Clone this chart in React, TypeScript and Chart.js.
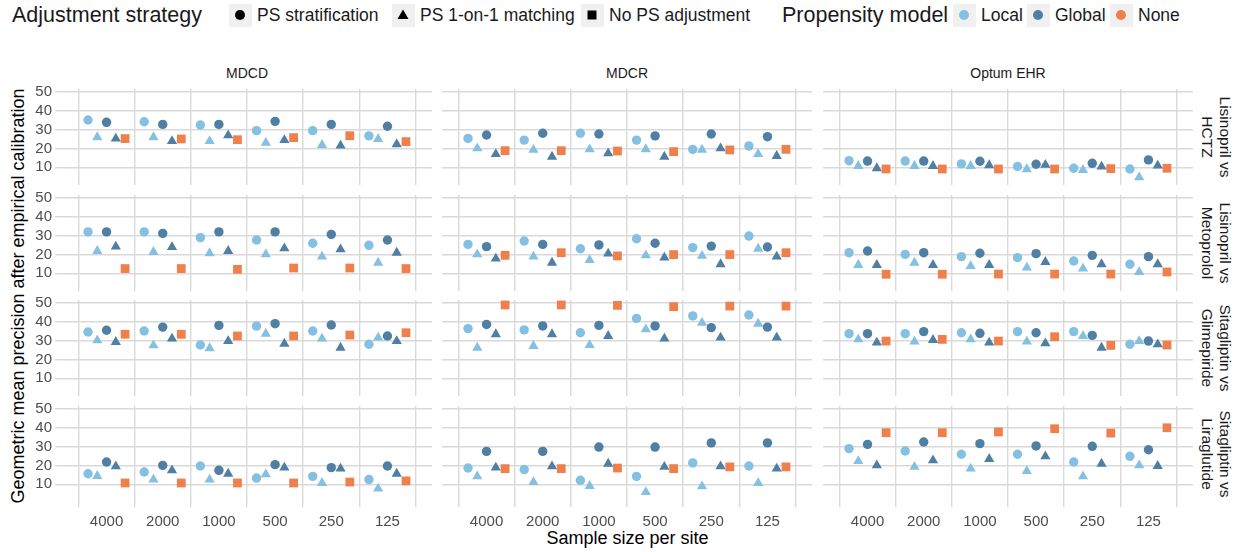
import React, { useEffect, useRef } from 'react';
import { Chart, registerables } from 'chart.js';

Chart.register(...registerables);

const FONT = "'Liberation Sans', Arial, Helvetica, sans-serif";
Chart.defaults.font.family = FONT;

// ---------------- data ----------------
const sampleSizes = ['4000', '2000', '1000', '500', '250', '125'];
const databases = ['MDCD', 'MDCR', 'Optum EHR'];
const comparisons = [
  'Lisinopril vs\nHCTZ',
  'Lisinopril vs\nMetoprolol',
  'Sitagliptin vs\nGlimepiride',
  'Sitagliptin vs\nLiraglutide',
];
const yTickValues = [10, 20, 30, 40, 50];

// each row = one panel (comparison x database, row-major), values per sample size
const localStratification = [
  [35.0, 34.1, 32.4, 29.4, 29.4, 26.6],
  [25.3, 24.4, 28.0, 24.4, 19.5, 21.3],
  [13.5, 13.3, 11.8, 10.4, 9.5, 9.1],
  [31.9, 31.9, 28.9, 27.6, 25.9, 24.8],
  [25.3, 27.1, 23.0, 28.3, 23.6, 29.7],
  [20.9, 20.0, 18.8, 18.3, 16.5, 14.8],
  [34.5, 35.0, 27.6, 37.6, 35.0, 28.0],
  [36.3, 35.6, 34.1, 41.7, 43.0, 43.5],
  [33.6, 33.6, 34.1, 34.7, 34.7, 28.0],
  [15.6, 16.5, 19.7, 13.3, 14.2, 12.5],
  [18.6, 17.8, 12.1, 14.2, 21.3, 19.7],
  [28.9, 27.6, 25.9, 25.9, 21.8, 24.8],
];
const localMatching = [
  [25.9, 25.9, 23.9, 23.0, 21.8, 25.0],
  [20.0, 19.2, 19.5, 19.5, 19.2, 17.0],
  [10.7, 10.7, 10.7, 9.0, 8.6, 4.7],
  [21.8, 21.3, 20.6, 20.0, 18.8, 15.6],
  [20.0, 18.8, 17.0, 19.5, 19.2, 23.0],
  [14.4, 15.6, 13.8, 13.0, 12.5, 10.7],
  [30.1, 27.4, 25.9, 33.6, 31.0, 31.5],
  [26.2, 27.1, 27.6, 35.9, 39.4, 38.9],
  [30.6, 29.4, 30.6, 29.4, 32.4, 29.7],
  [14.4, 12.5, 12.5, 15.3, 10.7, 7.7],
  [14.2, 11.2, 9.1, 5.9, 8.9, 10.7],
  [22.3, 19.2, 18.3, 17.0, 14.2, 20.0],
];
const globalStratification = [
  [33.8, 32.7, 32.7, 34.3, 32.7, 31.7],
  [27.1, 28.0, 27.6, 26.6, 27.6, 26.2],
  [13.3, 13.3, 13.2, 11.6, 12.1, 13.9],
  [31.9, 31.1, 31.9, 31.9, 30.6, 27.6],
  [24.1, 25.3, 25.0, 25.9, 24.4, 23.9],
  [21.8, 20.9, 20.6, 20.4, 19.5, 18.8],
  [35.4, 37.1, 38.0, 38.9, 38.2, 32.4],
  [38.5, 37.7, 38.0, 37.7, 36.8, 37.1],
  [33.6, 34.7, 33.8, 34.1, 32.7, 29.7],
  [21.8, 20.0, 17.4, 20.4, 18.8, 19.7],
  [27.4, 27.4, 29.7, 29.7, 31.9, 31.9],
  [31.1, 32.4, 31.5, 30.3, 30.1, 28.3],
];
const globalMatching = [
  [25.2, 23.9, 26.9, 24.4, 21.5, 22.2],
  [17.0, 15.6, 17.4, 15.6, 20.0, 16.0],
  [9.5, 10.7, 11.1, 11.3, 10.4, 10.9],
  [24.1, 23.9, 21.8, 23.2, 22.7, 20.9],
  [17.8, 15.6, 20.4, 18.3, 14.8, 18.8],
  [14.4, 14.4, 14.4, 16.0, 14.8, 14.8],
  [29.2, 31.0, 29.7, 28.3, 26.2, 29.7],
  [33.3, 33.3, 32.4, 31.0, 31.5, 31.5],
  [28.9, 30.3, 28.9, 28.5, 26.2, 28.0],
  [19.5, 17.4, 15.6, 18.8, 18.3, 15.6],
  [18.8, 19.5, 20.9, 19.2, 19.5, 18.3],
  [20.0, 22.7, 23.4, 24.8, 20.9, 19.7],
];
const noAdjustment = [
  [25.2, 25.0, 24.6, 25.7, 26.7, 23.6],
  [18.8, 18.8, 18.6, 18.3, 19.2, 19.5],
  [9.1, 9.1, 9.1, 9.1, 9.3, 9.5],
  [12.5, 12.5, 12.1, 12.8, 12.8, 12.5],
  [19.5, 20.9, 19.2, 19.9, 19.9, 20.9],
  [9.5, 9.5, 9.6, 9.6, 9.6, 10.7],
  [33.3, 33.3, 32.4, 32.4, 32.9, 34.1],
  [48.8, 48.8, 48.6, 47.9, 48.2, 48.2],
  [29.7, 30.6, 29.7, 32.0, 27.4, 27.6],
  [10.7, 10.7, 10.7, 10.7, 11.2, 11.8],
  [18.3, 18.3, 18.6, 18.3, 19.2, 19.2],
  [37.3, 37.3, 37.7, 39.4, 37.1, 39.9],
];

// ---------------- style ----------------
const LOCAL = '#84c0e2';
const GLOBAL = '#4f7fa2';
const NONE = '#ef7f4b';
const GRID = '#d9d9d9';
const TICK_TEXT = '#4d4d4d';
const STRIP_TEXT = '#1a1a1a';

const PANEL_W = 370;
const PANEL_H = 96;
const COL_LEFT = [62, 442, 823];
const ROW_TOP = [89, 195, 300, 406];
const Y_MIN = 0.63;
const Y_MAX = 51.43;
const X_MIN = -0.293;
const X_MAX = 6.293;
const PAD = 22;
const Y_AXIS_W = 45;
const X_AXIS_H = 30;
const DODGE = [-0.33, -0.165, 0, 0.165, 0.33];

const seriesDefs = [
  { values: localStratification, color: LOCAL, style: 'circle', radius: 4.7 },
  { values: localMatching, color: LOCAL, style: 'triangle', radius: 5.9 },
  { values: globalStratification, color: GLOBAL, style: 'circle', radius: 4.7 },
  { values: globalMatching, color: GLOBAL, style: 'triangle', radius: 5.9 },
  { values: noAdjustment, color: NONE, style: 'rect', radius: 6.2 },
];

function Panel({ r, c }: { r: number; c: number }) {
  const ref = useRef<HTMLCanvasElement>(null);
  const showY = c === 0;
  const showX = r === 3;
  const w = PANEL_W + 2 * PAD + (showY ? Y_AXIS_W : 0);
  const h = PANEL_H + 2 * PAD + (showX ? X_AXIS_H : 0);
  const left = COL_LEFT[c] - PAD - (showY ? Y_AXIS_W : 0);
  const top = ROW_TOP[r] - PAD;

  useEffect(() => {
    if (!ref.current) return;
    const idx = r * 3 + c;
    const unit = PANEL_W / (X_MAX - X_MIN);
    const chart = new Chart(ref.current, {
      type: 'scatter',
      data: {
        datasets: seriesDefs.map((s, k) => ({
          data: s.values[idx].map((v, i) => ({ x: i + 0.5 + DODGE[k], y: v })),
          pointStyle: s.style as any,
          pointRadius: s.radius,
          pointHoverRadius: s.radius,
          backgroundColor: s.color,
          borderColor: s.color,
          pointBorderWidth: 0,
          borderWidth: 0,
          clip: false as any,
        })),
      },
      options: {
        responsive: false,
        animation: false,
        events: [],
        layout: { padding: PAD, autoPadding: false },
        plugins: { legend: { display: false }, tooltip: { enabled: false } },
        scales: {
          x: {
            type: 'linear',
            min: X_MIN,
            max: X_MAX,
            afterBuildTicks: (s: any) => {
              s.ticks = [0, 1, 2, 3, 4, 5, 6].map((v) => ({ value: v }));
            },
            afterFit: (s: any) => {
              s.height = showX ? X_AXIS_H : 0;
            },
            border: { display: false },
            grid: {
              color: GRID,
              lineWidth: 1.4,
              drawTicks: showX,
              tickLength: 5,
              tickColor: GRID,
            },
            ticks: {
              display: showX,
              autoSkip: false,
              maxRotation: 0,
              labelOffset: unit / 2,
              padding: 6,
              color: TICK_TEXT,
              font: { size: 15, family: FONT },
              callback: (v: any) => sampleSizes[v] ?? '',
            },
          },
          y: {
            type: 'linear',
            min: Y_MIN,
            max: Y_MAX,
            afterBuildTicks: (s: any) => {
              s.ticks = yTickValues.map((v) => ({ value: v }));
            },
            afterFit: (s: any) => {
              s.width = showY ? Y_AXIS_W : 0;
            },
            border: { display: false },
            grid: {
              color: GRID,
              lineWidth: 1.4,
              drawTicks: showY,
              tickLength: 7,
              tickColor: GRID,
            },
            ticks: {
              display: showY,
              padding: 3,
              color: TICK_TEXT,
              font: { size: 15, family: FONT },
            },
          },
        },
      },
    } as any);
    return () => chart.destroy();
  }, [r, c]);

  return (
    <canvas
      ref={ref}
      width={w}
      height={h}
      style={{ position: 'absolute', left, top, width: w, height: h }}
    />
  );
}

function Marker({ shape, color }: { shape: string; color: string }) {
  return (
    <svg width={12} height={12} viewBox="0 0 12 12" style={{ display: 'block' }}>
      {shape === 'circle' && <circle cx={6} cy={6} r={5} fill={color} />}
      {shape === 'triangle' && <polygon points="6,0.5 11.5,10 0.5,10" fill={color} />}
      {shape === 'square' && <rect x={1.5} y={1.5} width={9} height={9} fill={color} />}
    </svg>
  );
}

function LegendItem({ x, shape, color, label }: { x: number; shape: string; color: string; label: string }) {
  return (
    <>
      <div
        style={{
          position: 'absolute',
          left: x - 11.5,
          top: 3.5,
          width: 23,
          height: 23,
          background: '#f0f0f0',
          display: 'flex',
          alignItems: 'center',
          justifyContent: 'center',
        }}
      >
        <Marker shape={shape} color={color} />
      </div>
      <div
        style={{
          position: 'absolute',
          left: x + 17,
          top: 15,
          transform: 'translateY(-50%)',
          fontSize: 17.5,
          whiteSpace: 'nowrap',
          color: '#1a1a1a',
        }}
      >
        {label}
      </div>
    </>
  );
}

export default function App() {
  const panels = [];
  for (let r = 0; r < 4; r++) for (let c = 0; c < 3; c++) panels.push(<Panel key={`${r}-${c}`} r={r} c={c} />);

  return (
    <div
      style={{
        position: 'absolute',
        left: 0,
        top: 0,
        width: 1239,
        height: 552,
        background: '#ffffff',
        fontFamily: FONT,
        overflow: 'hidden',
      }}
    >
      {/* legend */}
      <div style={{ position: 'absolute', left: 12, top: 15, transform: 'translateY(-50%)', fontSize: 21.5, whiteSpace: 'nowrap', color: '#1a1a1a' }}>
        Adjustment strategy
      </div>
      <LegendItem x={240} shape="circle" color="#000" label="PS stratification" />
      <LegendItem x={403} shape="triangle" color="#000" label="PS 1-on-1 matching" />
      <LegendItem x={592} shape="square" color="#000" label="No PS adjustment" />
      <div style={{ position: 'absolute', left: 782, top: 15, transform: 'translateY(-50%)', fontSize: 21.5, whiteSpace: 'nowrap', color: '#1a1a1a' }}>
        Propensity model
      </div>
      <LegendItem x={964} shape="circle" color={LOCAL} label="Local" />
      <LegendItem x={1038} shape="circle" color={GLOBAL} label="Global" />
      <LegendItem x={1121} shape="circle" color={NONE} label="None" />

      {/* top strips */}
      {databases.map((d, c) => (
        <div
          key={d}
          style={{
            position: 'absolute',
            left: COL_LEFT[c],
            width: PANEL_W,
            top: 73,
            transform: 'translateY(-50%)',
            textAlign: 'center',
            fontSize: 14,
            color: STRIP_TEXT,
          }}
        >
          {d}
        </div>
      ))}

      {/* right strips */}
      {comparisons.map((t, r) => (
        <div
          key={t}
          style={{
            position: 'absolute',
            left: 1216,
            top: ROW_TOP[r] + PANEL_H / 2,
            transform: 'translate(-50%, -50%) rotate(90deg)',
            whiteSpace: 'pre',
            textAlign: 'center',
            fontSize: 15.5,
            lineHeight: '17.7px',
            color: STRIP_TEXT,
          }}
        >
          {t}
        </div>
      ))}

      {/* axis titles */}
      <div
        style={{
          position: 'absolute',
          left: 18,
          top: (ROW_TOP[0] + ROW_TOP[3] + PANEL_H) / 2,
          transform: 'translate(-50%, -50%) rotate(-90deg)',
          whiteSpace: 'nowrap',
          fontSize: 18,
          color: '#000',
        }}
      >
        Geometric mean precision after empirical calibration
      </div>
      <div
        style={{
          position: 'absolute',
          left: (COL_LEFT[0] + COL_LEFT[2] + PANEL_W) / 2,
          top: 538,
          transform: 'translate(-50%, -50%)',
          whiteSpace: 'nowrap',
          fontSize: 18,
          color: '#000',
        }}
      >
        Sample size per site
      </div>

      {panels}
    </div>
  );
}
